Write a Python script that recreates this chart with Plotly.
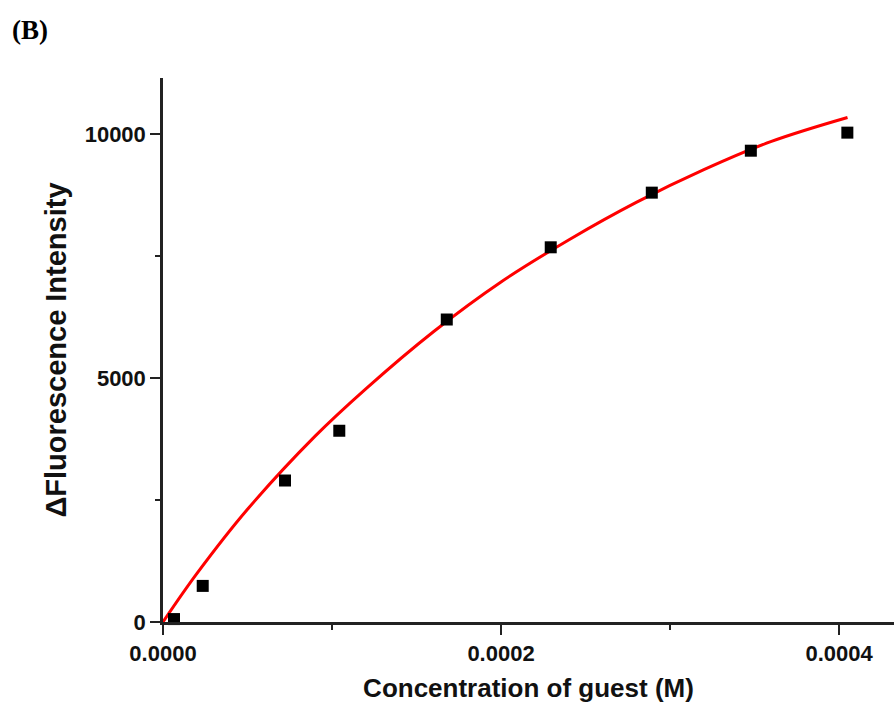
import plotly.graph_objects as go

# Measured data points
conc_M = [6.5e-6, 2.35e-5, 7.22e-5, 1.043e-4, 1.679e-4, 2.294e-4, 2.892e-4, 3.478e-4, 4.049e-4]
delta_F = [60, 740, 2900, 3920, 6200, 7680, 8800, 9660, 10030]

# Fitted curve at several points
fit_x = [0.0, 0.2e-4, 0.5e-4, 0.9e-4, 1.2e-4, 1.6e-4, 2.0e-4, 2.4e-4, 2.8e-4, 3.2e-4, 3.6e-4, 4.05e-4]
fit_y = [0, 990, 2310, 3810, 4780, 5950, 6970, 7830, 8600, 9270, 9850, 10340]

x_ticks = [0.0, 0.0002, 0.0004]
x_tick_labels = ["0.0000", "0.0002", "0.0004"]
y_ticks = [0, 5000, 10000]
y_tick_labels = ["0", "5000", "10000"]

fig = go.Figure()
fig.add_trace(go.Scatter(
    x=fit_x, y=fit_y, mode="lines",
    line=dict(color="#ff0000", width=3, shape="spline", smoothing=1.0),
    cliponaxis=False, showlegend=False, hoverinfo="skip"))
fig.add_trace(go.Scatter(
    x=conc_M, y=delta_F, mode="markers",
    marker=dict(symbol="square", size=12, color="#000000"),
    cliponaxis=False, showlegend=False))

axis_font = dict(family="Liberation Sans, Arial", size=22, color="#111111")
xtitle_font = dict(family="Liberation Sans, Arial", size=26, color="#111111")
ytitle_font = dict(family="Liberation Sans, Arial", size=29, color="#111111")

fig.update_layout(
    width=894, height=711,
    margin=dict(l=163, r=0, t=78, b=89),
    paper_bgcolor="white", plot_bgcolor="white",
    font=dict(family="Liberation Sans, Arial"),
    xaxis=dict(
        range=[0, 0.0004325],
        tickvals=x_ticks, ticktext=["<b>%s</b>" % t for t in x_tick_labels],
        tickfont=axis_font,
        ticks="outside", ticklen=10, tickwidth=2, tickcolor="#222222",
        minor=dict(dtick=0.0001, tick0=0, ticks="outside", ticklen=5, tickwidth=2, tickcolor="#222222", showgrid=False),
        showline=True, linecolor="#222222", linewidth=2.5,
        showgrid=False, zeroline=False,
        title=dict(text="<b>Concentration of guest (M)</b>", font=xtitle_font, standoff=14),
    ),
    yaxis=dict(
        range=[0, 11150],
        tickvals=y_ticks, ticktext=["<b>%s</b>" % t for t in y_tick_labels],
        tickfont=axis_font,
        ticks="outside", ticklen=10, tickwidth=2, tickcolor="#222222",
        minor=dict(dtick=2500, tick0=0, ticks="outside", ticklen=5, tickwidth=2, tickcolor="#222222", showgrid=False),
        showline=True, linecolor="#222222", linewidth=2.5,
        showgrid=False, zeroline=False,
        title=dict(text="<b>ΔFluorescence Intensity</b>", font=ytitle_font, standoff=10),
    ),
)
fig.add_annotation(
    text="<b>(B)</b>", xref="paper", yref="paper",
    x=(10 - 163) / (894 - 163), y=1 + (78 - 30) / (622 - 78),
    xanchor="left", yanchor="middle", showarrow=False,
    font=dict(family="Liberation Serif, Times New Roman", size=27, color="#000000"))

fig.write_html("out.html")
